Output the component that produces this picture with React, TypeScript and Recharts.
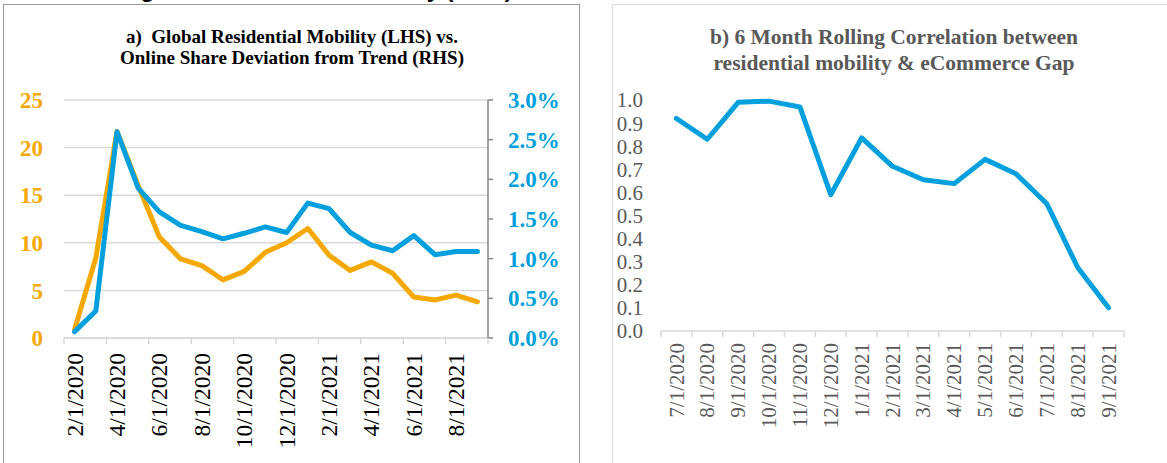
import { CartesianGrid, Line, LineChart, XAxis, YAxis } from "recharts";

// panel a) months, monthly series
const months = [
  "2/1/2020", "3/1/2020", "4/1/2020", "5/1/2020", "6/1/2020", "7/1/2020",
  "8/1/2020", "9/1/2020", "10/1/2020", "11/1/2020", "12/1/2020", "1/1/2021",
  "2/1/2021", "3/1/2021", "4/1/2021", "5/1/2021", "6/1/2021", "7/1/2021",
  "8/1/2021", "9/1/2021",
];
const residentialMobility = [
  0.9, 8.4, 21.7, 16.0, 10.6, 8.3, 7.6, 6.1, 7.0, 9.0,
  10.0, 11.5, 8.7, 7.1, 8.0, 6.8, 4.3, 4.0, 4.5, 3.8,
];
const onlineShareGap = [
  0.08, 0.34, 2.6, 1.89, 1.59, 1.42, 1.34, 1.25, 1.32, 1.4,
  1.33, 1.7, 1.63, 1.33, 1.17, 1.1, 1.29, 1.05, 1.09, 1.09,
];
const mobilityTicks = [0, 5, 10, 15, 20, 25];
const gapTicks = [0, 0.5, 1, 1.5, 2, 2.5, 3];

// panel b) rolling correlation
const corrMonths = [
  "7/1/2020", "8/1/2020", "9/1/2020", "10/1/2020", "11/1/2020", "12/1/2020",
  "1/1/2021", "2/1/2021", "3/1/2021", "4/1/2021", "5/1/2021", "6/1/2021",
  "7/1/2021", "8/1/2021", "9/1/2021",
];
const rollingCorrelation = [
  0.92, 0.83, 0.99, 0.995, 0.97, 0.59, 0.836, 0.713, 0.655, 0.638,
  0.743, 0.681, 0.551, 0.275, 0.101,
];
const corrTicks = [0, 0.1, 0.2, 0.3, 0.4, 0.5, 0.6, 0.7, 0.8, 0.9, 1];

const SERIF = '"Liberation Serif", "Times New Roman", serif';
const ORANGE = "#F5A800";
const BLUE = "#009FDD";
const LIGHT = "#d9d9d9";

const LEFT_W = 580;
const LEFT_PLOT_W = 488 - 64;
const RIGHT_W = 567;
const RIGHT_PLOT_W = 1124 - 661;
const H = 463;

const leftData = months.map((m, i) => ({
  month: m,
  mobility: residentialMobility[i],
  gap: onlineShareGap[i],
}));
const rightData = corrMonths.map((m, i) => ({ month: m, corr: rollingCorrelation[i] }));

function DateTick(props: any) {
  const { x, y, payload, band, lastLabel, endShift, color, fontSize, gap } = props;
  const edge = x - band / 2;
  const ty = y + gap;
  return (
    <g>
      <line x1={edge} x2={edge} y1={y} y2={y + 6} stroke={LIGHT} strokeWidth={1.5} />
      {payload.value === lastLabel && (
        <line
          x1={x + endShift}
          x2={x + endShift}
          y1={y}
          y2={y + 6}
          stroke={LIGHT}
          strokeWidth={1.5}
        />
      )}
      <text
        x={x}
        y={ty}
        transform={`rotate(-90, ${x}, ${ty})`}
        textAnchor="end"
        dy="0.34em"
        fill={color}
        fontSize={fontSize}
        fontFamily={SERIF}
      >
        {payload.value}
      </text>
    </g>
  );
}

export default function App() {
  const leftBand = LEFT_PLOT_W / months.length;
  const rightBand = RIGHT_PLOT_W / corrMonths.length;

  return (
    <div
      style={{
        position: "fixed",
        left: 0,
        top: 0,
        width: 1167,
        height: H,
        background: "#fff",
        overflow: "hidden",
      }}
    >
      {/* figure headline, cut off at the top edge */}
      <div
        style={{
          position: "absolute",
          left: 120,
          top: -22,
          whiteSpace: "nowrap",
          fontFamily: '"Liberation Sans", Arial, sans-serif',
          fontWeight: 700,
          fontSize: 23,
          lineHeight: "23px",
          color: "#000",
        }}
      >
        Figure 4: Residential Mobility (2020)
      </div>

      {/* panel frames */}
      <div
        style={{
          position: "absolute",
          left: 3,
          top: 4,
          width: 577,
          height: 520,
          border: "1.5px solid #9a9a9a",
          boxSizing: "border-box",
          background: "#fff",
        }}
      />
      <div
        style={{
          position: "absolute",
          left: 612,
          top: 4,
          width: 600,
          height: 520,
          border: "1.5px solid #dcdcdc",
          boxSizing: "border-box",
          background: "#fff",
        }}
      />

      {/* panel a */}
      <div
        style={{
          position: "absolute",
          left: 0,
          top: 26,
          width: LEFT_W,
          textAlign: "center",
          fontFamily: SERIF,
          fontWeight: 700,
          fontSize: 19,
          lineHeight: "21px",
          color: "#000",
          paddingLeft: 4,
          boxSizing: "border-box",
        }}
      >
        a)&nbsp; Global Residential Mobility (LHS) vs.
        <br />
        Online Share Deviation from Trend (RHS)
      </div>
      <div style={{ position: "absolute", left: 0, top: 0 }}>
        <LineChart
          width={LEFT_W}
          height={H}
          data={leftData}
          margin={{ top: 100, right: 0, bottom: 0, left: 0 }}
        >
          <CartesianGrid
            yAxisId="left"
            vertical={false}
            stroke={LIGHT}
            strokeWidth={1.5}
          />
          <XAxis
            dataKey="month"
            height={125}
            interval={1}
            padding={{ left: leftBand / 2, right: leftBand / 2 }}
            axisLine={{ stroke: LIGHT, strokeWidth: 1.5 }}
            tickLine={false}
            tickSize={0}
            tickMargin={0}
            tick={(p: any) => (
              <DateTick
                {...p}
                band={leftBand}
                lastLabel={months[18]}
                endShift={leftBand * 1.5}
                color="#000"
                fontSize={23.5}
                gap={15}
              />
            )}
          />
          <YAxis
            yAxisId="left"
            width={64}
            domain={[0, 25]}
            ticks={mobilityTicks}
            interval={0}
            axisLine={false}
            tickLine={false}
            tickSize={6}
            tickMargin={15}
            tick={{ fill: ORANGE, fontSize: 23, fontWeight: 700, fontFamily: SERIF }}
          />
          <YAxis
            yAxisId="right"
            orientation="right"
            width={92}
            domain={[0, 3]}
            ticks={gapTicks}
            interval={0}
            tickFormatter={(v: number) => `${v.toFixed(1)}%`}
            axisLine={{ stroke: "#868686", strokeWidth: 1.5 }}
            tickLine={{ stroke: "#868686", strokeWidth: 1.5 }}
            tickSize={5}
            tickMargin={15}
            tick={{ fill: BLUE, fontSize: 23, fontWeight: 700, fontFamily: SERIF }}
          />
          <Line
            yAxisId="left"
            type="linear"
            dataKey="mobility"
            stroke={ORANGE}
            strokeWidth={5}
            strokeLinejoin="round"
            strokeLinecap="round"
            dot={false}
            activeDot={false}
            isAnimationActive={false}
          />
          <Line
            yAxisId="right"
            type="linear"
            dataKey="gap"
            stroke={BLUE}
            strokeWidth={5}
            strokeLinejoin="round"
            strokeLinecap="round"
            dot={false}
            activeDot={false}
            isAnimationActive={false}
          />
        </LineChart>
      </div>

      {/* panel b */}
      <div
        style={{
          position: "absolute",
          left: 612,
          top: 24,
          width: 564,
          textAlign: "center",
          fontFamily: SERIF,
          fontWeight: 700,
          fontSize: 21.5,
          lineHeight: "26px",
          color: "#595959",
        }}
      >
        b) 6 Month Rolling Correlation between
        <br />
        residential mobility &amp; eCommerce Gap
      </div>
      <div style={{ position: "absolute", left: 600, top: 0 }}>
        <LineChart
          width={RIGHT_W}
          height={H}
          data={rightData}
          margin={{ top: 100, right: 43, bottom: 0, left: 0 }}
        >
          <XAxis
            dataKey="month"
            height={132}
            interval={0}
            padding={{ left: rightBand / 2, right: rightBand / 2 }}
            axisLine={{ stroke: LIGHT, strokeWidth: 1.5 }}
            tickLine={false}
            tickSize={0}
            tickMargin={0}
            tick={(p: any) => (
              <DateTick
                {...p}
                band={rightBand}
                lastLabel={corrMonths[corrMonths.length - 1]}
                endShift={rightBand / 2}
                color="#595959"
                fontSize={21}
                gap={12}
              />
            )}
          />
          <YAxis
            width={61}
            domain={[0, 1]}
            ticks={corrTicks}
            interval={0}
            tickFormatter={(v: number) => v.toFixed(1)}
            axisLine={false}
            tickLine={false}
            tickSize={6}
            tickMargin={12}
            tick={{ fill: "#595959", fontSize: 21, fontFamily: SERIF }}
          />
          <Line
            type="linear"
            dataKey="corr"
            stroke={BLUE}
            strokeWidth={5}
            strokeLinejoin="round"
            strokeLinecap="round"
            dot={false}
            activeDot={false}
            isAnimationActive={false}
          />
        </LineChart>
      </div>
    </div>
  );
}
